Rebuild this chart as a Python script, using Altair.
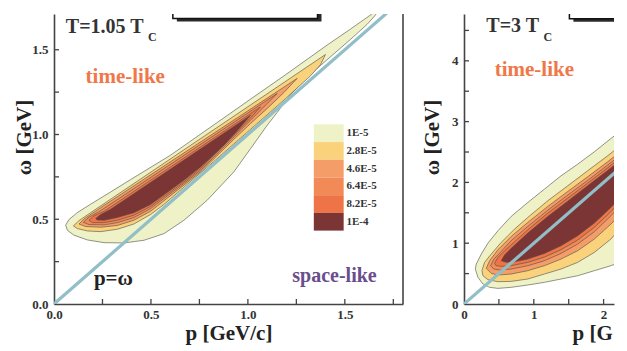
import altair as alt
import pandas as pd

# ---------------- data ----------------
LEVELS = ["1E-5", "2.8E-5", "4.6E-5", "6.4E-5", "8.2E-5", "1E-4"]
COLORS = ["#eef2c6", "#fad27c", "#f59d68", "#f28a57", "#ee7447", "#7b3535"]

# left panel, T = 1.05 Tc : contour outlines (p [GeV/c], omega [GeV])
A1_P = [0.060, 0.077, 0.120, 0.189, 0.292, 0.395, 0.601, 0.842, 1.014, 1.186, 1.409, 1.529, 1.632, 1.680,
        1.658, 1.615, 1.529, 1.357, 1.289, 1.220, 1.151, 1.100, 1.014, 0.928, 0.790, 0.670, 0.567, 0.464,
        0.361, 0.258, 0.172, 0.103, 0.069]
A1_W = [0.465, 0.498, 0.539, 0.589, 0.661, 0.734, 0.878, 1.071, 1.209, 1.346, 1.528, 1.622, 1.705, 1.752,
        1.705, 1.650, 1.561, 1.390, 1.315, 1.236, 1.130, 1.055, 0.917, 0.780, 0.612, 0.494, 0.415, 0.376,
        0.360, 0.362, 0.378, 0.406, 0.435]
A2_P = [0.100, 0.129, 0.189, 0.756, 1.400, 1.375, 1.323, 1.186, 1.014, 0.842, 0.670, 0.567, 0.498, 0.412,
        0.326, 0.241, 0.172, 0.120]
A2_W = [0.461, 0.492, 0.539, 0.976, 1.472, 1.413, 1.346, 1.203, 1.031, 0.858, 0.689, 0.587, 0.528, 0.472,
        0.441, 0.427, 0.431, 0.445]
A3_P = [0.129, 0.155, 0.223, 1.254, 1.186, 1.100, 1.014, 0.928, 0.756, 0.670, 0.498, 0.412, 0.326, 0.241, 0.163]
A3_W = [0.472, 0.502, 0.555, 1.331, 1.248, 1.154, 1.065, 0.972, 0.780, 0.701, 0.547, 0.494, 0.463, 0.453, 0.457]
A4_P = [0.151, 0.180, 0.241, 1.151, 1.082, 1.014, 0.928, 0.756, 0.670, 0.498, 0.412, 0.326, 0.258, 0.180]
A4_W = [0.482, 0.512, 0.551, 1.242, 1.163, 1.085, 0.986, 0.789, 0.711, 0.563, 0.510, 0.480, 0.467, 0.469]
A5_P = [0.180, 0.206, 0.258, 1.065, 1.014, 0.928, 0.756, 0.670, 0.498, 0.412, 0.326, 0.258, 0.198]
A5_W = [0.494, 0.520, 0.547, 1.163, 1.098, 0.996, 0.799, 0.720, 0.575, 0.524, 0.494, 0.480, 0.480]
A6_P = [0.215, 0.241, 0.292, 1.014, 0.962, 0.876, 0.756, 0.670, 0.498, 0.412, 0.326, 0.258, 0.223]
A6_W = [0.504, 0.528, 0.559, 1.114, 1.045, 0.937, 0.809, 0.730, 0.587, 0.539, 0.510, 0.494, 0.496]

# right panel, T = 3 Tc
B1_P = [0.162, 0.176, 0.248, 0.343, 0.486, 0.676, 0.914, 1.152, 1.390, 1.629, 1.867, 2.105, 2.348, 2.45,
        2.45, 2.348, 2.105, 1.867, 1.629, 1.390, 1.152, 0.914, 0.676, 0.486, 0.367, 0.271, 0.200]
B1_W = [0.575, 0.657, 0.821, 1.002, 1.205, 1.441, 1.670, 1.889, 2.108, 2.300, 2.503, 2.722, 2.941, 3.03,
        0.78, 0.739, 0.630, 0.548, 0.465, 0.411, 0.356, 0.312, 0.274, 0.257, 0.274, 0.329, 0.438]
B2_P = [0.257, 0.295, 0.390, 0.533, 0.724, 0.914, 1.200, 1.486, 1.771, 2.057, 2.348, 2.45,
        2.45, 2.348, 2.105, 1.867, 1.629, 1.390, 1.152, 0.914, 0.676, 0.486, 0.343, 0.271]
B2_W = [0.548, 0.685, 0.821, 1.013, 1.232, 1.424, 1.698, 1.944, 2.191, 2.437, 2.700, 2.79,
        1.53, 1.397, 1.068, 0.849, 0.685, 0.575, 0.493, 0.411, 0.372, 0.367, 0.400, 0.465]
B3_P = [0.319, 0.367, 0.486, 0.676, 0.914, 1.200, 1.486, 1.771, 2.057, 2.348, 2.45,
        2.45, 2.348, 2.105, 1.867, 1.629, 1.390, 1.152, 0.914, 0.676, 0.486, 0.390]
B3_W = [0.586, 0.712, 0.893, 1.112, 1.342, 1.605, 1.851, 2.092, 2.338, 2.601, 2.69,
        1.75, 1.616, 1.314, 1.068, 0.876, 0.739, 0.630, 0.548, 0.493, 0.476, 0.504]
B4_P = [0.381, 0.429, 0.533, 0.676, 0.914, 1.200, 1.486, 1.771, 2.057, 2.348, 2.45,
        2.45, 2.348, 2.105, 1.867, 1.629, 1.390, 1.152, 0.914, 0.676, 0.510, 0.424]
B4_W = [0.630, 0.739, 0.865, 1.041, 1.276, 1.544, 1.791, 2.032, 2.284, 2.547, 2.64,
        1.95, 1.752, 1.451, 1.188, 0.986, 0.832, 0.712, 0.630, 0.575, 0.559, 0.575]
B5_P = [0.438, 0.486, 0.581, 0.724, 0.914, 1.200, 1.486, 1.771, 2.057, 2.348, 2.45,
        2.45, 2.348, 2.105, 1.867, 1.629, 1.390, 1.152, 0.914, 0.676, 0.533, 0.462]
B5_W = [0.668, 0.767, 0.876, 1.024, 1.221, 1.495, 1.742, 1.988, 2.240, 2.503, 2.59,
        2.05, 1.824, 1.517, 1.260, 1.051, 0.893, 0.772, 0.685, 0.630, 0.619, 0.630]
B6_P = [0.533, 0.581, 0.676, 0.914, 1.200, 1.486, 1.771, 2.057, 2.348, 2.45,
        2.45, 2.348, 2.105, 1.867, 1.629, 1.390, 1.152, 0.914, 0.724, 0.605]
B6_W = [0.712, 0.805, 0.915, 1.166, 1.440, 1.692, 1.944, 2.196, 2.459, 2.55,
        2.13, 1.889, 1.588, 1.331, 1.123, 0.958, 0.832, 0.739, 0.695, 0.685]

DIAG = [0.0, 6.0]

# axes
L_XMAX, L_YMAX = 1.80, 1.711
R_XMAX, R_YMAX = 2.149, 4.77
L_XLAB = [0.0, 0.5, 1.0, 1.5]
L_YLAB = [0.0, 0.5, 1.0, 1.5]
L_XTICK = [0.25, 0.5, 0.75, 1.0, 1.25, 1.5, 1.75]
L_YTICK = [0.25, 0.5, 0.75, 1.0, 1.25, 1.5]
R_XLAB = [0, 1, 2]
R_YLAB = [0, 1, 2, 3, 4]
R_XTICK = [0.5, 1, 1.5, 2]
R_YTICK = [0.5, 1, 1.5, 2, 2.5, 3, 3.5, 4, 4.5]
X_TITLE = "p [GeV/c]"
X_TITLE_CUT = "p [G"
Y_TITLE = "ω [GeV]"

# annotations: (text, p, omega, font size, colour)
L_TEXTS = [("T=1.05 T", 0.061, 1.601, 20, "#333"), ("C", 0.485, 1.552, 12, "#333"),
           ("time-like", 0.163, 1.306, 21, "#f07848"), ("p=ω", 0.206, 0.114, 21, "#222"),
           ("space-like", 1.229, 0.130, 20, "#6a4d8c")]
R_TEXTS = [("T=3 T", 0.32, 4.467, 20, "#333"), ("C", 1.14, 4.33, 12, "#333"),
           ("time-like", 0.44, 3.755, 21, "#f07848")]

# layout helpers (legend box and title boxes, in data units)
LEG_X0, LEG_X1, LEG_TOP, LEG_STEP, LEG_TX = 1.340, 1.494, 1.060, 0.1045, 1.508
L_BOX = (0.613, 1.359, 1.685, 2.2)
R_BOX = (1.51, 4.5, 4.693, 5.5)

LW, RW, H = 349, 150, 290
SERIF = "Liberation Serif"
STROKE = "#4e4e46"


def poly(p, w):
    pp = list(p) + [p[0]]
    ww = list(w) + [w[0]]
    return pd.DataFrame({"p": pp, "w": ww, "i": list(range(len(pp)))})


def panel(polys, W, xmax, ymax, xlab, ylab, xfmt, yfmt, xtick, ytick, box, texts, legend, border,
          xtitle, yext, ytp):
    xs = alt.Scale(domain=[0, xmax], nice=False, zero=False)
    ys = alt.Scale(domain=[0, ymax], nice=False, zero=False)
    common = dict(grid=False, ticks=False, labelFont=SERIF, labelFontWeight="bold",
                  labelFontSize=13, labelColor="#333", titleFont=SERIF, titleFontWeight="bold",
                  titleFontSize=21, titleColor="#222", domainColor="#444", domainWidth=1.6,
                  labelFlush=False)
    extra = {"titleAnchor": "start", "titleX": 108} if xtitle == X_TITLE_CUT else {}
    xaxis = alt.Axis(values=xlab, format=xfmt, title=xtitle, titlePadding=1, labelPadding=4, **common, **extra)
    yaxis = alt.Axis(values=ylab, format=yfmt, title=Y_TITLE, titlePadding=ytp, labelPadding=6, titleY=123,
                     minExtent=yext, maxExtent=yext, **common)
    layers = []
    # axis carrier layer
    layers.append(alt.Chart(pd.DataFrame({"p": [0.0], "w": [0.0]})).mark_point(opacity=0).encode(
        x=alt.X("p:Q", scale=xs, axis=xaxis), y=alt.Y("w:Q", scale=ys, axis=yaxis)))
    for k, (pp, ww) in enumerate(polys):
        layers.append(alt.Chart(poly(pp, ww)).mark_line(
            fill=COLORS[k], stroke=STROKE, strokeWidth=0.6, clip=True).encode(
            x=alt.X("p:Q", scale=xs), y=alt.Y("w:Q", scale=ys), order="i:Q"))
    diag = pd.DataFrame({"p": DIAG, "w": DIAG})
    layers.append(alt.Chart(diag).mark_line(color="#91bec7", strokeWidth=3.2, clip=True).encode(
        x=alt.X("p:Q", scale=xs), y=alt.Y("w:Q", scale=ys)))
    # title box with shadow
    x0, x1, y0, y1 = box
    dx, dy = 4.0 / W * xmax, 3.0 / H * ymax
    shadow = pd.DataFrame({"p": [x0 + dx], "p2": [x1 + dx], "w": [y0 - dy], "w2": [y1 - dy]})
    frame = pd.DataFrame({"p": [x0], "p2": [x1], "w": [y0], "w2": [y1]})
    layers.append(alt.Chart(shadow).mark_rect(fill="#2a2a2a", clip=True).encode(
        x=alt.X("p:Q", scale=xs), x2="p2:Q", y=alt.Y("w:Q", scale=ys), y2="w2:Q"))
    layers.append(alt.Chart(frame).mark_rect(fill="white", stroke="#111", strokeWidth=1.5, clip=True).encode(
        x=alt.X("p:Q", scale=xs), x2="p2:Q", y=alt.Y("w:Q", scale=ys), y2="w2:Q"))
    # inward ticks
    layers.append(alt.Chart(pd.DataFrame({"p": xtick})).transform_filter(
        alt.datum.p < xmax).mark_rule(color="#444", strokeWidth=1.3).encode(
        x=alt.X("p:Q", scale=xs), y=alt.value(H), y2=alt.value(H - 5)))
    layers.append(alt.Chart(pd.DataFrame({"w": ytick})).transform_filter(
        alt.datum.w < ymax).mark_rule(color="#444", strokeWidth=1.3).encode(
        y=alt.Y("w:Q", scale=ys), x=alt.value(0), x2=alt.value(5)))
    if border:
        layers.append(alt.Chart(pd.DataFrame({"p": [xmax]})).mark_rule(color="#444", strokeWidth=1.6).encode(
            x=alt.X("p:Q", scale=xs), y=alt.value(0), y2=alt.value(H)))
    if legend:
        rows = []
        for k, lev in enumerate(LEVELS):
            rows.append({"lev": lev, "p": LEG_X0, "p2": LEG_X1,
                         "w": LEG_TOP - k * LEG_STEP, "w2": LEG_TOP - (k + 1) * LEG_STEP,
                         "wm": LEG_TOP - (k + 0.5) * LEG_STEP, "pt": LEG_TX})
        ldf = pd.DataFrame(rows)
        layers.append(alt.Chart(ldf).mark_rect().encode(
            x=alt.X("p:Q", scale=xs), x2="p2:Q", y=alt.Y("w:Q", scale=ys), y2="w2:Q",
            color=alt.Color("lev:N", scale=alt.Scale(domain=LEVELS, range=COLORS), legend=None)))
        layers.append(alt.Chart(ldf).mark_text(align="left", baseline="middle", font=SERIF, fontWeight="bold",
                                               fontSize=11, color="#333").encode(
            x=alt.X("pt:Q", scale=xs), y=alt.Y("wm:Q", scale=ys), text="lev:N"))
    for t, p, w, size, color in texts:
        df = pd.DataFrame({"p": [p], "w": [w], "t": [t]})
        layers.append(alt.Chart(df).mark_text(align="left", baseline="alphabetic", font=SERIF,
                                              fontWeight="bold", fontSize=size, color=color).encode(
            x=alt.X("p:Q", scale=xs), y=alt.Y("w:Q", scale=ys), text="t:N"))
    return alt.layer(*layers).properties(width=W, height=H)


left = panel([(A1_P, A1_W), (A2_P, A2_W), (A3_P, A3_W), (A4_P, A4_W), (A5_P, A5_W), (A6_P, A6_W)],
             LW, L_XMAX, L_YMAX, L_XLAB, L_YLAB, ".1f", ".1f", L_XTICK, L_YTICK, L_BOX,
             L_TEXTS, True, True, X_TITLE, 22, -2)
right = panel([(B1_P, B1_W), (B2_P, B2_W), (B3_P, B3_W), (B4_P, B4_W), (B5_P, B5_W), (B6_P, B6_W)],
              RW, R_XMAX, R_YMAX, R_XLAB, R_YLAB, "d", "d", R_XTICK, R_YTICK, R_BOX,
              R_TEXTS, False, False, X_TITLE_CUT, 13, 9)

chart = alt.hconcat(left, right, spacing=61, bounds="flush").configure_view(stroke=None)
chart.save("out.html", embed_options={"renderer": "svg", "actions": False})
